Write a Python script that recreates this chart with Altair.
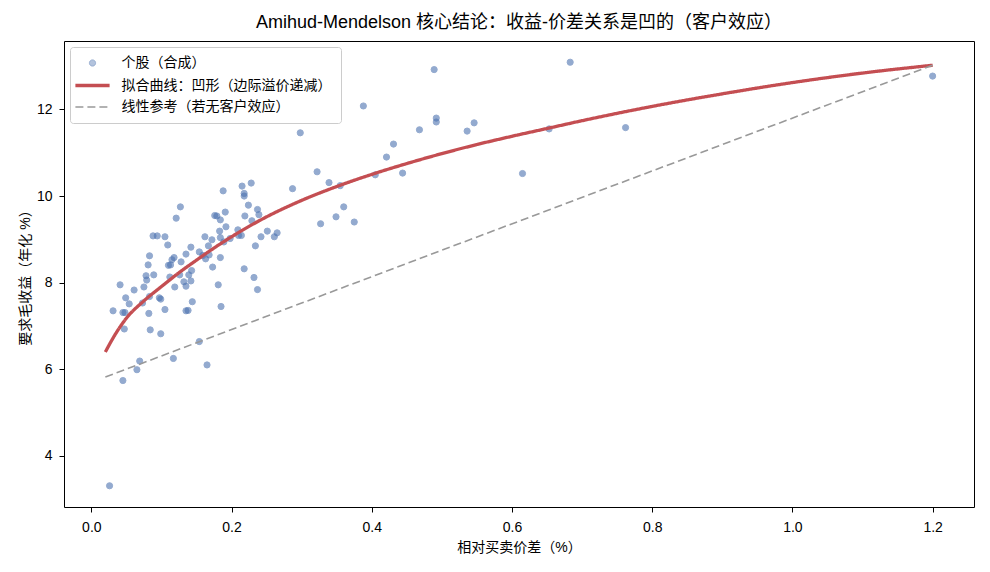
import altair as alt
import pandas as pd

FONT = "Liberation Sans, Noto Sans CJK SC"

TITLE = "Amihud-Mendelson 核心结论：收益-价差关系是凹的（客户效应）"
X_TITLE = "相对买卖价差（%）"
Y_TITLE = "要求毛收益（年化 %）"
SERIES = ["个股（合成）", "拟合曲线：凹形（边际溢价递减）", "线性参考（若无客户效应）"]

# synthetic stocks (scatter)
stock_spread = [
    0.215, 0.228, 0.188, 0.218, 0.218, 0.224, 0.127, 0.121, 0.176, 0.179,
    0.191, 0.184, 0.219, 0.237, 0.239, 0.229, 0.192, 0.183, 0.209, 0.210,
    0.214, 0.251, 0.242, 0.261, 0.265, 0.088, 0.094, 0.105, 0.109, 0.162,
    0.172, 0.184, 0.189, 0.198, 0.234, 0.167, 0.083, 0.081, 0.118, 0.115,
    0.135, 0.142, 0.154, 0.159, 0.168, 0.163, 0.184, 0.173, 0.128, 0.110,
    0.113, 0.143, 0.112, 0.126, 0.139, 0.089, 0.078, 0.079, 0.075, 0.041,
    0.061, 0.049, 0.054, 0.073, 0.083, 0.097, 0.099, 0.119, 0.132, 0.135,
    0.142, 0.031, 0.045, 0.048, 0.082, 0.105, 0.135, 0.138, 0.144, 0.181,
    0.185, 0.218, 0.232, 0.237, 0.047, 0.084, 0.099, 0.154, 0.069, 0.065,
    0.117, 0.165, 0.045, 0.026, 0.287, 0.298, 0.322, 0.327, 0.339, 0.355,
    0.360, 0.349, 0.375, 0.388, 0.405, 0.421, 0.431, 0.444, 0.468, 0.489,
    0.492, 0.492, 0.536, 0.546, 0.615, 0.653, 0.683, 0.762, 1.200,
]
stock_return = [
    10.23, 10.30, 10.12, 10.06, 10.00, 9.79, 9.75, 9.49, 9.55, 9.54,
    9.63, 9.45, 9.54, 9.69, 9.57, 9.43, 9.29, 9.19, 9.22, 9.09,
    9.09, 9.19, 9.06, 9.06, 9.15, 9.08, 9.08, 9.06, 8.87, 9.06,
    8.99, 9.04, 8.94, 9.02, 8.85, 8.85, 8.62, 8.41, 8.58, 8.53,
    8.66, 8.82, 8.71, 8.63, 8.64, 8.55, 8.58, 8.36, 8.48, 8.40,
    8.41, 8.28, 8.13, 8.18, 8.18, 8.18, 8.16, 8.06, 7.90, 7.95,
    7.83, 7.65, 7.51, 7.53, 7.68, 7.65, 7.62, 7.90, 8.02, 7.92,
    8.04, 7.35, 7.31, 7.31, 7.29, 7.38, 7.35, 7.36, 7.56, 7.95,
    7.45, 8.32, 8.12, 7.84, 6.93, 6.91, 6.82, 6.64, 6.19, 5.99,
    6.25, 6.10, 5.74, 3.31, 10.17, 11.46, 10.56, 9.36, 10.31, 10.24,
    9.75, 9.52, 9.40, 12.08, 10.49, 10.90, 11.20, 10.53, 11.53, 12.92,
    11.80, 11.71, 11.50, 11.69, 10.52, 11.55, 13.09, 11.58, 12.77,
]

# fitted concave curve
fit_spread = [0.02, 0.035, 0.05, 0.075, 0.10, 0.125, 0.15, 0.175, 0.20, 0.225,
              0.25, 0.30, 0.35, 0.40, 0.45, 0.50, 0.55, 0.60, 0.65, 0.70,
              0.80, 0.90, 1.00, 1.10, 1.20]
fit_return = [6.40, 6.83, 7.18, 7.58, 7.91, 8.23, 8.52, 8.80, 9.06, 9.30,
              9.52, 9.90, 10.22, 10.50, 10.75, 10.98, 11.19, 11.38, 11.56, 11.74,
              12.07, 12.36, 12.62, 12.84, 13.02]

# linear reference
ref_spread = [0.02, 1.20]
ref_return = [5.82, 13.02]

x_ticks = [0.0, 0.2, 0.4, 0.6, 0.8, 1.0, 1.2]
y_ticks = [4, 6, 8, 10, 12]
x_domain = [-0.039, 1.259]
y_domain = [2.82, 13.58]

COLORS = ["#4c72b0", "#c44e52", "#999999"]
SHAPES = ["circle", "M-1.9,0H1.9", "M-1.9,0H1.9"]
SIZES = [38, 324, 324]
DASHES = [[1, 0], [1, 0], [8, 4]]
WIDTHS = [1, 3.3, 1.6]
OPACITIES = [0.6, 1, 1]

df_pts = pd.DataFrame({"spread": stock_spread, "ret": stock_return, "series": SERIES[0]})
df_fit = pd.DataFrame({"spread": fit_spread, "ret": fit_return, "series": SERIES[1]})
df_ref = pd.DataFrame({"spread": ref_spread, "ret": ref_return, "series": SERIES[2]})

leg = alt.Legend(
    title=None,
    orient="top-left",
    offset=6,
    padding=9,
    rowPadding=4.5,
    symbolOffset=2.5,
    labelOffset=18,
    labelFont=FONT,
    labelFontSize=14,
    labelColor="black",
    labelLimit=0,
    strokeColor="#cccccc",
    fillColor="rgba(255,255,255,0.8)",
    cornerRadius=3,
)

color_scale = alt.Scale(domain=SERIES, range=COLORS)
shape_scale = alt.Scale(domain=SERIES, range=SHAPES)
size_scale = alt.Scale(type="ordinal", domain=SERIES, range=SIZES)
dash_scale = alt.Scale(domain=SERIES, range=DASHES)
width_scale = alt.Scale(type="ordinal", domain=SERIES, range=WIDTHS)
opac_scale = alt.Scale(type="ordinal", domain=SERIES, range=OPACITIES)

x_enc = alt.X(
    "spread:Q",
    scale=alt.Scale(domain=x_domain, nice=False, zero=False),
    axis=alt.Axis(values=x_ticks, format=".1f", title=X_TITLE, labelPadding=8, titlePadding=6),
)
y_enc = alt.Y(
    "ret:Q",
    scale=alt.Scale(domain=y_domain, nice=False, zero=False),
    axis=alt.Axis(values=y_ticks, format="d", title=Y_TITLE, labelPadding=7, titlePadding=4),
)

points = alt.Chart(df_pts).mark_point(filled=True, clip=True).encode(
    x=x_enc,
    y=y_enc,
    fill=alt.Fill("series:N", scale=color_scale, legend=leg),
    stroke=alt.Stroke("series:N", scale=color_scale, legend=leg),
    shape=alt.Shape("series:N", scale=shape_scale, legend=leg),
    size=alt.Size("series:N", scale=size_scale, legend=leg),
    opacity=alt.Opacity("series:N", scale=opac_scale, legend=leg),
    strokeWidth=alt.StrokeWidth("series:N", scale=width_scale, legend=leg),
)

fit = alt.Chart(df_fit).mark_line(interpolate="monotone", clip=True).encode(
    x=x_enc,
    y=y_enc,
    stroke=alt.Stroke("series:N", scale=color_scale, legend=leg),
    strokeDash=alt.StrokeDash("series:N", scale=dash_scale, legend=leg),
    strokeWidth=alt.StrokeWidth("series:N", scale=width_scale, legend=leg),
)

ref = alt.Chart(df_ref).mark_line(clip=True).encode(
    x=x_enc,
    y=y_enc,
    stroke=alt.Stroke("series:N", scale=color_scale, legend=leg),
    strokeDash=alt.StrokeDash("series:N", scale=dash_scale, legend=leg),
    strokeWidth=alt.StrokeWidth("series:N", scale=width_scale, legend=leg),
)

chart = alt.layer(points, fit, ref).properties(
    width=910,
    height=466,
    autosize=alt.AutoSizeParams(type="none"),
    padding={"left": 64, "top": 41, "right": 16, "bottom": 65},
    background="white",
    title=alt.TitleParams(
        TITLE, font=FONT, fontSize=18, fontWeight="normal", color="black",
        anchor="middle", offset=9,
    ),
).configure_view(
    stroke="black", strokeWidth=1,
).configure_axis(
    grid=False,
    domain=False,
    tickColor="black",
    tickSize=5,
    tickWidth=1,
    labelFont=FONT,
    labelFontSize=14,
    labelColor="black",
    titleFont=FONT,
    titleFontSize=14,
    titleFontWeight="normal",
    titleColor="black",
)

chart.save("out.html", embed_options={"renderer": "svg", "actions": False})
